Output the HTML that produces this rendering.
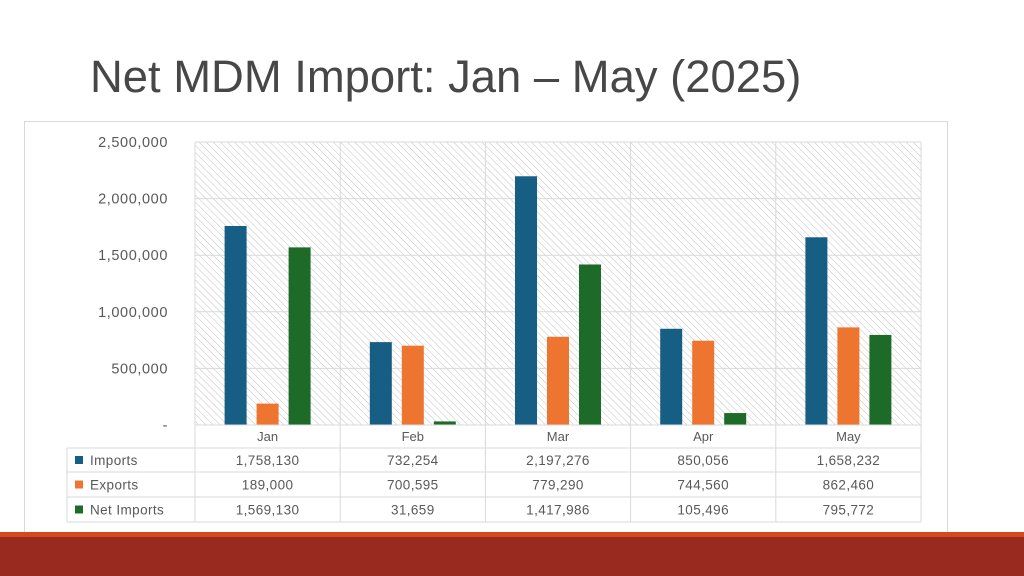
<!DOCTYPE html>
<html><head><meta charset="utf-8"><style>
html,body{margin:0;padding:0;background:#fff;width:1024px;height:576px;overflow:hidden}
#title{position:absolute;left:90px;top:51px;font-family:"Liberation Sans",sans-serif;font-size:45.4px;color:#474747;font-weight:normal;margin:0;letter-spacing:0px}
svg{position:absolute;left:0;top:0}
</style></head><body>
<svg id="chart" width="1024" height="576">
<defs><pattern id="hatch" width="5" height="5" patternUnits="userSpaceOnUse" patternTransform="rotate(-45)"><line x1="0" y1="0" x2="0" y2="5" stroke="#c2c2c2" stroke-width="1"/></pattern></defs>
<rect x="24.5" y="121.5" width="923" height="412" fill="#fff" stroke="#d9d9d9"/>
<rect x="195" y="142" width="726" height="283" fill="url(#hatch)"/>
<g id="grid"></g><g id="bars"></g><g id="table"></g>
<rect x="0" y="532" width="1024" height="5" fill="#d24a1e"/>
<rect x="0" y="537" width="1024" height="39" fill="#992a1f"/>
</svg>
<h1 id="title">Net MDM Import: Jan – May (2025)</h1>
<script>
const categories=["Jan","Feb","Mar","Apr","May"];
const seriesNames=["Imports","Exports","Net Imports"];
const imports=[1758130,732254,2197276,850056,1658232];
const exports_=[189000,700595,779290,744560,862460];
const netImports=[1569130,31659,1417986,105496,795772];
const yTicks=[0,500000,1000000,1500000,2000000,2500000];
const tickLabels=["-","500,000","1,000,000","1,500,000","2,000,000","2,500,000"];
const colors=["#175e85","#ed7530","#1e6b29"];
const NS="http://www.w3.org/2000/svg";
const X0=195,X1=921,Y0=425,Y1=142,MAX=2500000;
const cw=(X1-X0)/categories.length;
const y=v=>Y0-(v/MAX)*(Y0-Y1);
const xc=i=>X0+cw*(i+0.5);
function mk(tag,attrs,parent,text){const e=document.createElementNS(NS,tag);for(const k in attrs)e.setAttribute(k,attrs[k]);if(text!==undefined)e.textContent=text;parent.appendChild(e);return e;}
const grid=document.getElementById('grid'),bars=document.getElementById('bars'),table=document.getElementById('table');
const F='"Liberation Sans",sans-serif';
yTicks.forEach((t,i)=>{
  if(t>0){const l=mk('line',{x1:X0,x2:X1,y1:y(t),y2:y(t),stroke:'#d9d9d9'},grid);
  
  }
  const tx=mk('text',{x:168,y:y(t)+5,'text-anchor':'end','font-family':F,'font-size':14.5,fill:'#595959','letter-spacing':'0.6'},grid,tickLabels[i]);
  
  
});
for(let i=0;i<=categories.length;i++){const l=mk('line',{x1:X0+cw*i,x2:X0+cw*i,y1:Y1,y2:522,stroke:'#d9d9d9'},grid);
  
  }
mk('line',{x1:X0,x2:X1,y1:Y1,y2:Y1,stroke:'#d9d9d9'},grid);
const series=[imports,exports_,netImports];
const offs=[-32,0,32],bw=22;
series.forEach((s,si)=>s.forEach((v,i)=>{
  const r=mk('rect',{x:xc(i)+offs[si]-bw/2,y:y(v),width:bw,height:Y0-y(v),fill:colors[si]},bars);
  
  
}));
const rowsY=[425,448,472,497,522];
rowsY.forEach((ry,i)=>{const x1=i===0?X0:67;const l=mk('line',{x1:x1,x2:X1,y1:ry,y2:ry,stroke:'#d9d9d9'},table);
  
  });
mk('line',{x1:67,x2:67,y1:448,y2:522,stroke:'#d9d9d9'},table);
categories.forEach((c,i)=>{const t=mk('text',{x:xc(i),y:441,'text-anchor':'middle','font-family':F,'font-size':13,fill:'#595959'},table,c);
  
  });
const fmt=v=>v.toLocaleString('en-US');
series.forEach((s,si)=>{
  const cy=(rowsY[si+1]+rowsY[si+2])/2+5;
  const k=mk('rect',{x:75,y:cy-9,width:8,height:8,fill:colors[si]},table);
  
  
  const n=mk('text',{x:90,y:cy,'font-family':F,'font-size':13.5,fill:'#595959','letter-spacing':'0.4'},table,seriesNames[si]);
  
  
  s.forEach((v,i)=>{const t=mk('text',{x:xc(i),y:cy,'text-anchor':'middle','font-family':F,'font-size':13.5,fill:'#595959','letter-spacing':'0.4'},table,fmt(v));
    
    });
});
</script>
</body></html>
